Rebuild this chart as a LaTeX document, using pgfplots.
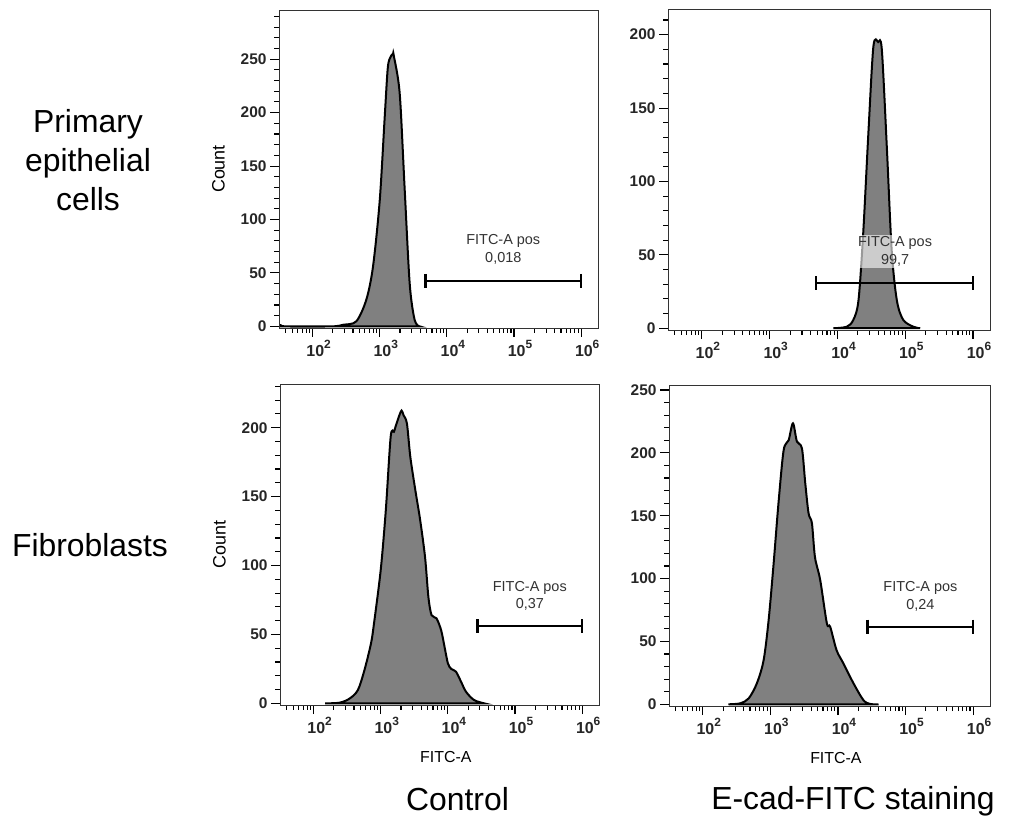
\documentclass[border=0pt]{standalone}
\usepackage{fontspec}
\setmainfont{Liberation Sans}
\usepackage{pgfplots}
\pgfplotsset{compat=1.18}

\newcommand\dec[1]{10\raisebox{0.5em}{\fontsize{12}{12}\selectfont#1}}

\pgfplotsset{
  every axis/.append style={
    scale only axis,
    xmin=31.6, xmax=1.78e6,
    axis on top,
    tick align=outside, tick pos=left,
    xtick={1e2,1e3,1e4,1e5,1e6},
    xticklabels={\dec{2},\dec{3},\dec{4},\dec{5},\dec{6}},
    minor xtick={40,50,60,70,80,90,200,300,400,500,600,700,800,900,
      2000,3000,4000,5000,6000,7000,8000,9000,
      20000,30000,40000,50000,60000,70000,80000,90000,
      200000,300000,400000,500000,600000,700000,800000,900000},
    minor ytick={0,10,...,290},
    major tick length=9bp, minor tick length=5bp,
    every tick/.style={black, line width=1.1bp},
    axis line style={line width=0.9bp, black!80},
    xticklabel style={font=\fontsize{16}{16}\bfseries\selectfont, xshift=6bp, text=black!85},
    yticklabel style={font=\fontsize{15.5}{15.5}\bfseries\selectfont, text=black!85},
    yticklabel={\pgfmathprintnumber[assume math mode=true]{\tick}},
    ylabel style={at={([xshift=-54bp]axis description cs:0,0.5)}, anchor=south,
      inner sep=0pt, font=\fontsize{18}{18}\selectfont},
    xlabel style={at={(axis description cs:0.52,0)}, anchor=base, yshift=-58bp,
      inner sep=0pt, font=\fontsize{16}{16}\selectfont},
  },
}
\tikzset{
  histfill/.style={draw=black, line width=2bp, fill=gray, smooth, tension=0.5},
  gatebar/.style={black, line width=2.4bp, mark=|, mark size=7bp, mark options={line width=2.4bp}},
  gatetext/.style={font=\fontsize{14.5}{17.5}\selectfont, align=center, text=black!80,
    fill=white, fill opacity=0.6, text opacity=1, inner sep=2bp},
}

\begin{document}
\begin{tikzpicture}
\useasboundingbox (0,0) rectangle (1009bp,816bp);

% top left: primary epithelial cells, control
\begin{semilogxaxis}[at={(279bp,488bp)}, anchor=south west, width=319bp, height=318bp,
  ymin=-1.5, ymax=296, ytick={0,50,...,250}, ylabel={Count}]
\addplot[histfill] coordinates {(33.1,2) (39.8,0) (191,0) (285,1.5) (447,4.7) (631,25)
  (794,56) (1000,118) (1186,196) (1318,242) (1445,252) (1578,255) (1622,253)
  (1982,218) (2344,130) (2793,40) (3311,6) (3926,0)} \closedcycle;
\addplot[gatebar] coordinates {(4786,42.6) (1e6,42.6)};
\node[gatetext] at (axis cs:69183,72) {FITC-A pos\\0,018};
\end{semilogxaxis}

% top right: primary epithelial cells, E-cad-FITC
\begin{semilogxaxis}[at={(668bp,486bp)}, anchor=south west, width=322bp, height=321bp,
  ymin=-1.2, ymax=217.5, ytick={0,50,...,200}]
\addplot[histfill] coordinates {(8710,0) (13677,1) (17140,5.7) (20417,19) (23988,65)
  (28576,133) (33884,192) (39811,195) (45082,190) (53703,121.5) (63096,53)
  (75162,19) (93325,5.7) (131826,1) (165959,0)} \closedcycle;
\addplot[gatebar] coordinates {(4786,30.7) (1e6,30.7)};
\node[gatetext] at (axis cs:70795,52.4) {FITC-A pos\\99,7};
\end{semilogxaxis}

% bottom left: fibroblasts, control
\begin{semilogxaxis}[at={(280bp,111bp)}, anchor=south west, width=319bp, height=321bp,
  ymin=-1.2, ymax=231.7, ytick={0,50,...,200}, ylabel={Count}, xlabel={FITC-A}]
\addplot[histfill] coordinates {(148,0) (245,0.5) (347,3.6) (457,9.7) (571,24) (716,43.5)
  (794,58) (1000,97) (1189,140) (1406,193.5) (1570,197) (1660,200.7) (1862,208)
  (2042,212.4) (2188,209) (2455,203) (2754,179) (3266,155) (3864,133) (4571,106)
  (5129,77) (5715,64) (6761,61.7) (7943,53) (8913,41) (10000,29) (11220,25)
  (13183,23) (15704,15.7) (18621,8.4) (24547,2.4) (34674,0)} \closedcycle;
\addplot[gatebar] coordinates {(27542,56) (1e6,56)};
\node[gatetext] at (axis cs:165959,78) {FITC-A pos\\0,37};
\end{semilogxaxis}

% bottom right: fibroblasts, E-cad-FITC
\begin{semilogxaxis}[at={(669bp,110bp)}, anchor=south west, width=321bp, height=321bp,
  ymin=-1.35, ymax=254, ytick={0,50,...,250}, xlabel={FITC-A}]
\addplot[histfill] coordinates {(240,0) (360,0.8) (479,4.8) (631,16.7) (794,35) (942,67)
  (1117,112) (1318,160) (1570,202) (1862,210) (2158,223.5) (2472,209) (2931,203.6)
  (3281,176) (3673,152) (4121,144) (4571,117) (5458,99) (6855,64.4) (7674,61.7)
  (9550,43) (12023,32.6) (16982,16.7) (23768,3.4) (29854,0.3) (39811,0)} \closedcycle;
\addplot[gatebar] coordinates {(27542,61.7) (1e6,61.7)};
\node[gatetext] at (axis cs:165959,86) {FITC-A pos\\0,24};
\end{semilogxaxis}

\node[font=\fontsize{32}{39}\selectfont, align=center] at (88bp,656bp) {Primary\\epithelial\\cells};
\node[font=\fontsize{32}{39}\selectfont] at (90bp,271bp) {Fibroblasts};
\node[font=\fontsize{32}{39}\selectfont, anchor=base, inner sep=0pt] at (457.5bp,6bp) {Control};
\node[font=\fontsize{32}{39}\selectfont, anchor=base, inner sep=0pt] at (853bp,6.5bp) {E-cad-FITC staining};
\end{tikzpicture}
\end{document}
